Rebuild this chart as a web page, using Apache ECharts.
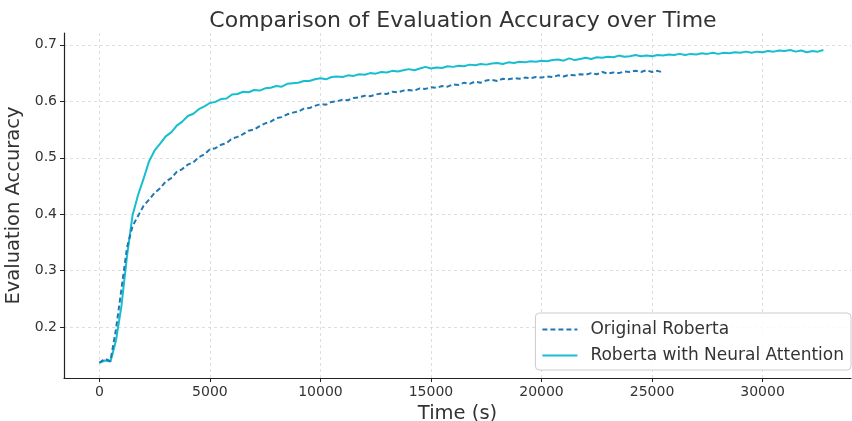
<!DOCTYPE html>
<html><head><meta charset="utf-8">
<script src="https://cdn.jsdelivr.net/npm/echarts@6/dist/echarts.min.js"></script>
<style>html,body{margin:0;padding:0;background:#fff}#c{width:852px;height:421px}</style>
</head><body><div id="c"></div>
<script>
const titleText = "Comparison of Evaluation Accuracy over Time";
const seriesNames = ["Original Roberta", "Roberta with Neural Attention"];
const timeStep = 250; // seconds between evaluations
const xTicks = [0, 5000, 10000, 15000, 20000, 25000, 30000];
const yTicks = [0.2, 0.3, 0.4, 0.5, 0.6, 0.7];

const originalAcc = [
0.137,0.144,0.140,0.196,0.268,0.341,0.379,0.397,0.415,0.426,
0.438,0.446,0.458,0.464,0.475,0.480,0.488,0.492,0.501,0.506,
0.515,0.517,0.523,0.526,0.534,0.537,0.542,0.548,0.550,0.556,
0.561,0.564,0.570,0.572,0.577,0.580,0.582,0.587,0.588,0.592,
0.595,0.594,0.599,0.600,0.603,0.602,0.606,0.607,0.610,0.609,
0.612,0.614,0.613,0.617,0.616,0.619,0.620,0.619,0.623,0.622,
0.625,0.624,0.627,0.626,0.630,0.629,0.633,0.631,0.635,0.633,
0.637,0.638,0.636,0.640,0.639,0.641,0.640,0.642,0.641,0.643,
0.642,0.644,0.643,0.646,0.644,0.647,0.646,0.648,0.647,0.650,
0.648,0.652,0.649,0.651,0.650,0.653,0.652,0.654,0.652,0.655,
0.652,0.654,0.651];

const attentionAcc = [
0.137,0.141,0.139,0.176,0.238,0.326,0.398,0.434,0.463,0.494,
0.513,0.525,0.538,0.545,0.557,0.564,0.574,0.578,0.586,0.591,
0.597,0.599,0.604,0.605,0.612,0.613,0.617,0.616,0.620,0.619,
0.623,0.624,0.627,0.626,0.631,0.632,0.633,0.636,0.636,0.639,
0.641,0.639,0.643,0.644,0.643,0.646,0.645,0.648,0.647,0.650,
0.649,0.652,0.651,0.654,0.653,0.655,0.657,0.655,0.658,0.661,
0.658,0.660,0.659,0.662,0.661,0.663,0.662,0.665,0.664,0.666,
0.665,0.667,0.668,0.666,0.669,0.668,0.670,0.669,0.671,0.670,
0.672,0.671,0.673,0.674,0.672,0.676,0.673,0.675,0.677,0.675,
0.678,0.677,0.679,0.678,0.681,0.679,0.680,0.682,0.680,0.681,
0.680,0.682,0.681,0.683,0.682,0.684,0.682,0.684,0.683,0.685,
0.684,0.686,0.684,0.686,0.685,0.687,0.686,0.688,0.686,0.688,
0.687,0.689,0.688,0.690,0.689,0.691,0.688,0.690,0.687,0.689,
0.688,0.691];

const toPairs = arr => arr.map((v, i) => [i * timeStep, v]);
const font = "DejaVu Sans";
const chart = echarts.init(document.getElementById('c'), null, {renderer: 'canvas'});
chart.setOption({
  animation: false,
  backgroundColor: '#fff',
  title: {text: titleText, left: 458, top: 5, textAlign: 'center',
    textStyle: {fontFamily: font, fontSize: 22, fontWeight: 'normal', color: '#333'}},
  grid: {left: 64, right: 1, top: 33, bottom: 43, containLabel: false, outerBoundsMode: 'none'},
  legend: {
    orient: 'vertical', right: 1, bottom: 51, itemWidth: 35, itemHeight: 12, itemGap: 9,
    itemStyle: {opacity: 0},
    padding: [8, 7, 6, 6], backgroundColor: 'rgba(255,255,255,0.85)', borderColor: '#ccc', borderWidth: 1, borderRadius: 4,
    textStyle: {fontFamily: font, fontSize: 17, color: '#333', padding: [0, 0, 0, 8]},
    data: seriesNames
  },
  xAxis: {
    type: 'value', min: -1600, max: 34000,
    name: 'Time (s)', nameLocation: 'middle', nameGap: 25,
    nameTextStyle: {fontFamily: font, fontSize: 19.5, color: '#333'},
    axisLine: {show: true, onZero: false, lineStyle: {color: '#222', width: 1.2}},
    axisTick: {show: true, customValues: xTicks, length: 4, lineStyle: {color: '#222'}},
    axisLabel: {customValues: xTicks, fontFamily: font, fontSize: 14, color: '#333', margin: 7,
      formatter: v => String(v)},
    splitLine: {show: true, lineStyle: {color: '#d6d6d6', type: [3, 3], width: 0.8}}
  },
  yAxis: {
    type: 'value', min: 0.11, max: 0.721,
    name: 'Evaluation Accuracy', nameLocation: 'middle', nameGap: 35,
    nameTextStyle: {fontFamily: font, fontSize: 19.5, color: '#333'},
    axisLine: {show: true, onZero: false, lineStyle: {color: '#222', width: 1.2}},
    axisTick: {show: true, customValues: yTicks, length: 4, lineStyle: {color: '#222'}},
    axisLabel: {customValues: yTicks, fontFamily: font, fontSize: 14, color: '#333', margin: 7,
      formatter: v => v.toFixed(1)},
    splitLine: {show: true, lineStyle: {color: '#d6d6d6', type: [3, 3], width: 0.8}}
  },
  series: [
    {name: seriesNames[0], type: 'line', data: toPairs(originalAcc), showSymbol: false, symbol: 'none',
      lineStyle: {color: '#1f77b4', width: 2, type: [5, 3]}, itemStyle: {color: '#1f77b4'}, z: 3},
    {name: seriesNames[1], type: 'line', data: toPairs(attentionAcc), showSymbol: false, symbol: 'none',
      lineStyle: {color: '#17becf', width: 2}, itemStyle: {color: '#17becf'}, z: 2}
  ]
});
</script></body></html>
